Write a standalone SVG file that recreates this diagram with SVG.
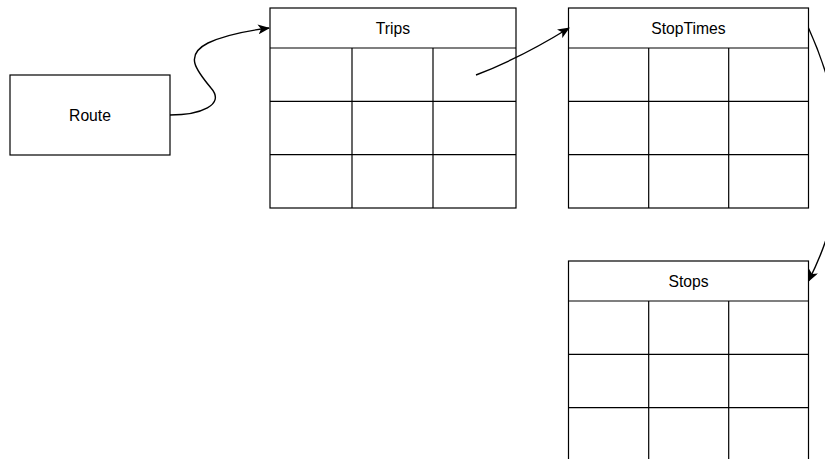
<svg xmlns="http://www.w3.org/2000/svg" width="825" height="459" viewBox="0 0 825 459">
<style>
.box{fill:#fff;stroke:#000;stroke-width:1.2}
.ln{fill:none;stroke:#000;stroke-width:1.2}
.t{font-family:"Liberation Sans",Arial,sans-serif;font-size:15.7px;fill:#000;text-anchor:middle;dominant-baseline:central}
.e{fill:none;stroke:#000;stroke-width:1.4}
</style>
<defs>
<marker id="arr" viewBox="0 0 12 10" refX="11" refY="5" markerWidth="12" markerHeight="10" markerUnits="userSpaceOnUse" orient="auto">
<path d="M0 0 L12 5 L0 10 L3 5 Z" fill="#000"/>
</marker>
</defs>
<rect width="825" height="459" fill="#fff"/>
<g id="route">
<rect class="box" x="10" y="75" width="160" height="80"/>
<text class="t" x="90" y="115">Route</text>
</g>
<g id="trips">
<rect class="box" x="270" y="8" width="246" height="200"/>
<line class="ln" x1="270" y1="48" x2="516" y2="48"/>
<line class="ln" x1="270" y1="101.3" x2="516" y2="101.3"/>
<line class="ln" x1="270" y1="154.7" x2="516" y2="154.7"/>
<line class="ln" x1="352" y1="48" x2="352" y2="208"/>
<line class="ln" x1="433" y1="48" x2="433" y2="208"/>
<text class="t" x="393" y="28">Trips</text>
</g>
<g id="stoptimes">
<rect class="box" x="568.5" y="8" width="240" height="200"/>
<line class="ln" x1="568.5" y1="48" x2="808.5" y2="48"/>
<line class="ln" x1="568.5" y1="101.3" x2="808.5" y2="101.3"/>
<line class="ln" x1="568.5" y1="154.7" x2="808.5" y2="154.7"/>
<line class="ln" x1="648.7" y1="48" x2="648.7" y2="208"/>
<line class="ln" x1="728.7" y1="48" x2="728.7" y2="208"/>
<text class="t" x="688.5" y="28">StopTimes</text>
</g>
<g id="stops">
<rect class="box" x="568.5" y="261" width="240" height="210"/>
<line class="ln" x1="568.5" y1="301" x2="808.5" y2="301"/>
<line class="ln" x1="568.5" y1="354.3" x2="808.5" y2="354.3"/>
<line class="ln" x1="568.5" y1="407.7" x2="808.5" y2="407.7"/>
<line class="ln" x1="648.7" y1="301" x2="648.7" y2="471"/>
<line class="ln" x1="728.7" y1="301" x2="728.7" y2="471"/>
<text class="t" x="688.5" y="281">Stops</text>
</g>
<g id="connectors">
<path class="e" marker-end="url(#arr)" d="M170 115 C200 115 226 105 211 88 C196 70 184 55 208 43 C225 35 245 31 269 28"/>
<path class="e" marker-end="url(#arr)" d="M476 75 C510 62 540 46 569 28"/>
<path class="e" marker-end="url(#arr)" d="M808.5 28 C850 120 850 200 808.5 281"/>
</g>
</svg>
